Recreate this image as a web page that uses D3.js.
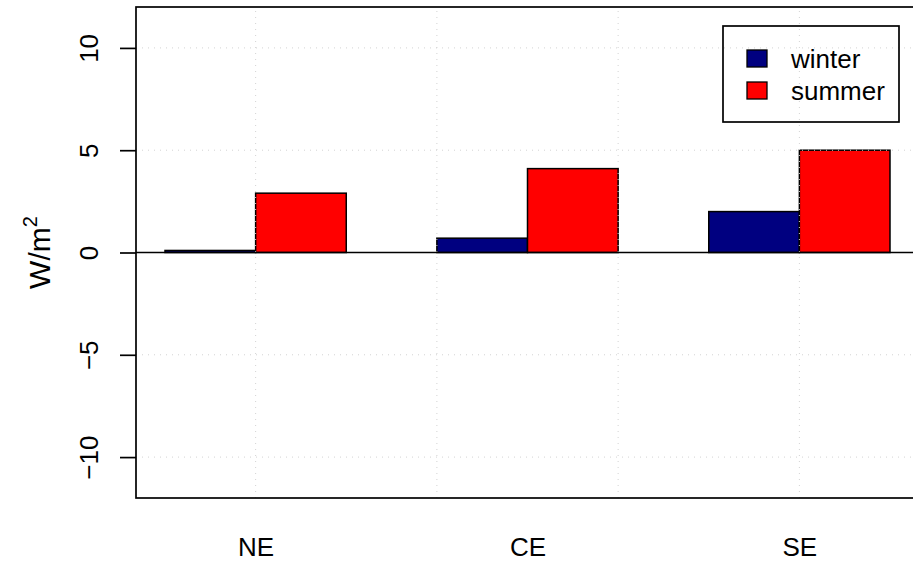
<!DOCTYPE html>
<html>
<head>
<meta charset="utf-8">
<script src="https://cdn.jsdelivr.net/npm/d3@7"></script>
<style>
  body { margin: 0; background: #fff; }
  text { font-family: "Liberation Sans", Arial, Helvetica, sans-serif; fill: #000; }
</style>
</head>
<body>
<svg id="chart"></svg>
<script>
const regions = ["NE", "CE", "SE"];
const seasons = ["winter", "summer"];
const winter = [0.1, 0.7, 2.0];
const summer = [2.9, 4.1, 5.0];
const seasonColors = ["#000080", "#ff0000"];
const yTicks = [-10, -5, 0, 5, 10];
const xGridTicks = [2, 4, 6, 8];

const width = 913, height = 562;
const margin = { top: 7, right: -6, bottom: 64, left: 136 };
const fontSize = 26;

const svg = d3.select("#chart")
  .attr("width", width)
  .attr("height", height);

// barplot style positions: each bar 1 unit wide, 1 unit gap before each group
const series = [winter, summer];
const bars = [];
regions.forEach((r, i) => {
  series.forEach((vals, j) => {
    bars.push({ region: r, season: seasons[j], value: vals[i], left: 1 + i * 3 + j });
  });
});
const lo = 1, hi = 1 + regions.length * 3 - 1;
const pad = (hi - lo) * 0.04;

const x = d3.scaleLinear()
  .domain([lo - pad, hi + pad])
  .range([margin.left, width - margin.right]);

const y = d3.scaleLinear()
  .domain([-12, 12])
  .range([height - margin.bottom, margin.top]);

// bars
svg.append("g")
  .selectAll("rect")
  .data(bars)
  .enter().append("rect")
  .attr("x", d => x(d.left))
  .attr("y", d => y(Math.max(0, d.value)))
  .attr("width", d => x(d.left + 1) - x(d.left))
  .attr("height", d => Math.abs(y(d.value) - y(0)))
  .attr("fill", d => seasonColors[seasons.indexOf(d.season)])
  .attr("stroke", "#000")
  .attr("stroke-width", 1.5);

// grid (drawn after bars, like R's grid())
const grid = svg.append("g")
  .attr("stroke", "#d3d3d3")
  .attr("stroke-width", 1)
  .attr("stroke-dasharray", "1,5");
grid.selectAll(".gy")
  .data(yTicks)
  .enter().append("line")
  .attr("x1", x.range()[0]).attr("x2", x.range()[1])
  .attr("y1", d => y(d)).attr("y2", d => y(d));
grid.selectAll(".gx")
  .data(xGridTicks)
  .enter().append("line")
  .attr("x1", d => x(d)).attr("x2", d => x(d))
  .attr("y1", y.range()[0]).attr("y2", y.range()[1]);

// zero line
svg.append("line")
  .attr("x1", x.range()[0]).attr("x2", x.range()[1])
  .attr("y1", y(0)).attr("y2", y(0))
  .attr("stroke", "#000")
  .attr("stroke-width", 1.5);

// plot box
svg.append("rect")
  .attr("x", x.range()[0])
  .attr("y", y.range()[1])
  .attr("width", x.range()[1] - x.range()[0])
  .attr("height", y.range()[0] - y.range()[1])
  .attr("fill", "none")
  .attr("stroke", "#000")
  .attr("stroke-width", 1.7);

// y axis
const yAxis = svg.append("g")
  .attr("transform", `translate(${margin.left},0)`)
  .call(d3.axisLeft(y)
    .tickValues(yTicks)
    .tickSize(16)
    .tickFormat(d => d < 0 ? "\u2212" + Math.abs(d) : String(d)));
yAxis.select(".domain").remove();
yAxis.selectAll(".tick line").attr("stroke", "#000").attr("stroke-width", 1.7);
yAxis.selectAll(".tick text")
  .attr("x", null)
  .attr("dy", null)
  .attr("transform", "translate(-38,0) rotate(-90)")
  .attr("text-anchor", "middle")
  .style("font-size", fontSize + "px")
  .style("font-family", "'Liberation Sans', Arial, sans-serif")
  .attr("fill", "#000");

// category labels
const centers = regions.map((r, i) => 2 + i * 3);
const xAxis = svg.append("g")
  .attr("transform", `translate(0,${height - 6})`)
  .call(d3.axisBottom(x)
    .tickValues(centers)
    .tickSize(0)
    .tickFormat((d, i) => regions[i]));
xAxis.select(".domain").remove();
xAxis.selectAll(".tick text")
  .attr("y", 0)
  .attr("dy", null)
  .style("font-size", fontSize + "px")
  .style("font-family", "'Liberation Sans', Arial, sans-serif")
  .attr("fill", "#000");

// y label
const ylab = svg.append("text")
  .attr("transform", `translate(50,${y(0)}) rotate(-90)`)
  .attr("text-anchor", "middle")
  .style("font-size", "30px");
ylab.append("tspan").text("W/m");
ylab.append("tspan").text("2").attr("dy", -13).style("font-size", "20px");

// legend
const legend = svg.append("g").attr("transform", "translate(723,26)");
legend.append("rect")
  .attr("width", 176).attr("height", 96)
  .attr("fill", "none")
  .attr("stroke", "#000")
  .attr("stroke-width", 1.7);
const items = legend.selectAll(".item")
  .data(seasons)
  .enter().append("g")
  .attr("transform", (d, i) => `translate(24,${24 + i * 32})`);
items.append("rect")
  .attr("width", 20).attr("height", 17)
  .attr("fill", (d, i) => seasonColors[i])
  .attr("stroke", "#000")
  .attr("stroke-width", 1.3);
items.append("text")
  .attr("x", 44).attr("y", 18)
  .style("font-size", "26px")
  .text(d => d);
</script>
</body>
</html>
